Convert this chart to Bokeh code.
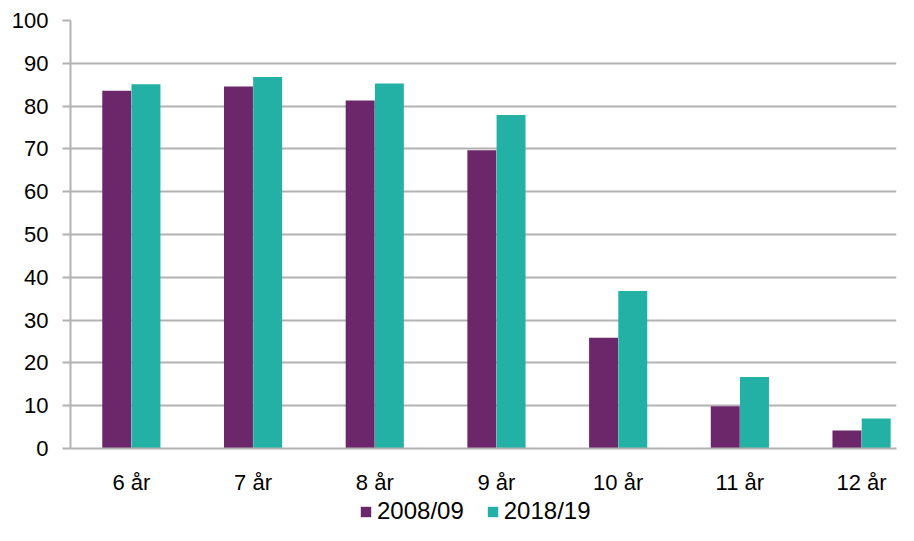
from bokeh.plotting import figure
from bokeh.layouts import column
from bokeh.models import Range1d, SingleIntervalTicker, FixedTicker, Legend, LegendItem, ColumnDataSource
from bokeh.embed import file_html
from bokeh.resources import INLINE

categories = ["6 år", "7 år", "8 år", "9 år", "10 år", "11 år", "12 år"]
series_names = ["2008/09", "2018/19"]
values_2008 = [83.6, 84.6, 81.3, 69.7, 25.9, 9.9, 4.2]
values_2018 = [85.1, 86.8, 85.3, 77.9, 36.8, 16.7, 7.0]
colors = ["#6B2769", "#23B1A5"]

FONT = "Liberation Sans"
GRID = "#B3B1B2"

idx = list(range(len(categories)))
src = ColumnDataSource(dict(
    xa=[i - 0.12 for i in idx], xb=[i + 0.12 for i in idx],
    a=values_2008, b=values_2018))

p = figure(x_range=Range1d(-0.5, 6.287), y_range=Range1d(0, 100),
           width=898, height=497, output_backend="svg", toolbar_location=None,
           min_border_left=70, min_border_right=2, min_border_top=20, min_border_bottom=48)
p.outline_line_color = None
p.background_fill_color = "white"

p.vbar(x="xa", top="a", width=0.238, source=src, fill_color=colors[0], line_color=None)
p.vbar(x="xb", top="b", width=0.238, source=src, fill_color=colors[1], line_color=None)

p.yaxis.ticker = SingleIntervalTicker(interval=10)
p.xaxis.ticker = FixedTicker(ticks=idx)
p.xaxis.major_label_overrides = {i: c for i, c in zip(idx, categories)}
p.ygrid.grid_line_color = GRID
p.ygrid.grid_line_width = 2
p.xgrid.grid_line_color = None

for ax in (p.xaxis, p.yaxis):
    ax.axis_line_color = GRID
    ax.axis_line_width = 2
    ax.major_label_text_font = FONT
    ax.major_label_text_font_size = "22px"
    ax.major_label_text_color = "#000000"
    ax.minor_tick_line_color = None

p.yaxis.major_tick_line_color = GRID
p.yaxis.major_tick_line_width = 2
p.yaxis.major_tick_out = 8
p.yaxis.major_tick_in = 0
p.yaxis.major_label_standoff = 14
p.xaxis.major_tick_line_color = None
p.xaxis.major_label_standoff = 15

# legend strip below the chart (legend swatches use off-screen dummy glyphs)
lg = figure(width=898, height=28, output_backend="svg", toolbar_location=None,
            x_range=Range1d(0, 1), y_range=Range1d(0, 1),
            min_border_left=0, min_border_right=0, min_border_top=0, min_border_bottom=0)
lg.axis.visible = False
lg.grid.visible = False
lg.outline_line_color = None
e1 = lg.vbar(x=[-5], top=[-5], width=0.1, fill_color=colors[0], line_color=None)
e2 = lg.vbar(x=[-5], top=[-5], width=0.1, fill_color=colors[1], line_color=None)

legend = Legend(items=[LegendItem(label=series_names[0], renderers=[e1]),
                       LegendItem(label=series_names[1], renderers=[e2])],
                orientation="horizontal", location=(289, 0),
                label_text_font=FONT, label_text_font_size="24px",
                label_text_color="#000000",
                glyph_width=13, glyph_height=13, label_standoff=5, spacing=22,
                border_line_color=None, background_fill_alpha=0,
                margin=0, padding=0)
lg.add_layout(legend)

layout = column(p, lg, spacing=0)
open("out.html", "w").write(file_html(layout, INLINE))
